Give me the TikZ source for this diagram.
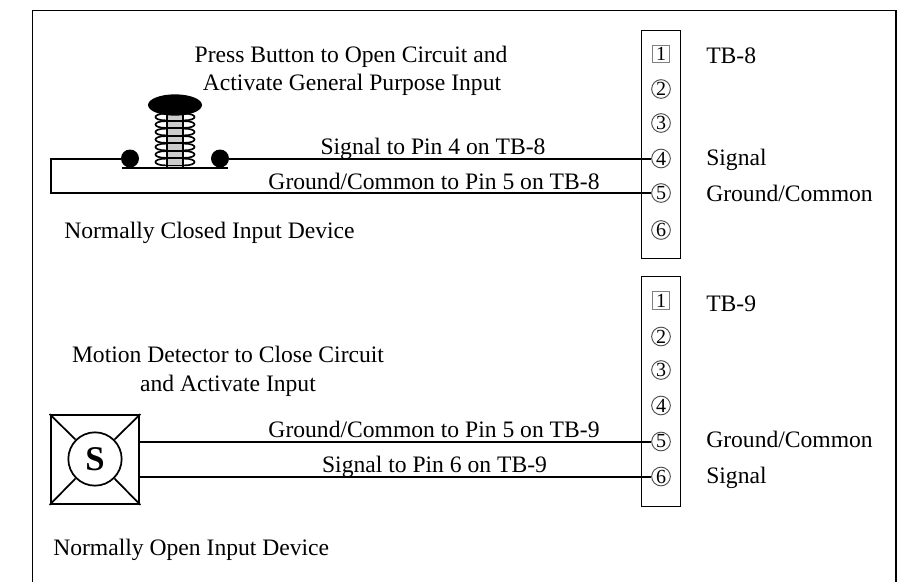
\documentclass[tikz,border=0pt]{standalone}
\usepackage{fontspec}
\usetikzlibrary{shapes.geometric}
\setmainfont{Liberation Serif}
\tikzset{
  lbl/.style={inner sep=0pt,font=\fontsize{17.7pt}{20pt}\selectfont,anchor=base west},
  wlbl/.style={inner sep=0pt,font=\fontsize{17.7pt}{20pt}\selectfont,anchor=base},
  wire/.style={line width=1.5pt},
  pin/.style={circle,draw=black!70,line width=.7pt,minimum size=14pt,inner sep=0pt,font=\fontsize{15pt}{15pt}\selectfont},
  pinsq/.style={rectangle,draw=black!50,line width=.7pt,minimum size=13pt,inner sep=0pt,font=\fontsize{15pt}{15pt}\selectfont},
  tb/.style={draw,line width=.9pt},
  coil/.style={line width=1.25pt}
}
\begin{document}
\begin{tikzpicture}[x=0.75pt,y=-0.75pt]
\useasboundingbox (0,0) rectangle (908,582);
\draw[line width=1.1pt] (32.5,582) -- (32.5,10.5) -- (896,10.5) -- (896,582);
% terminal blocks
\node[tb,minimum width=29.5pt,minimum height=171pt,inner sep=0pt,anchor=north west] (tb8) at (640.5,30) {};
\node[tb,minimum width=29.5pt,minimum height=172.5pt,inner sep=0pt,anchor=north west] (tb9) at (640.5,276) {};
\node[pinsq] (a1) at (661,54) {1};
\node[pin] (a2) at (661,89) {2};
\node[pin] (a3) at (661,123) {3};
\node[pin] (a4) at (661,158.5) {4};
\node[pin] (a5) at (661,193) {5};
\node[pin] (a6) at (661,230) {6};
\node[pinsq] (b1) at (661,300.5) {1};
\node[pin] (b2) at (661,336.5) {2};
\node[pin] (b3) at (661,370) {3};
\node[pin] (b4) at (661,405.5) {4};
\node[pin] (b5) at (661,441.5) {5};
\node[pin] (b6) at (661,476.5) {6};
% push button
\fill[black!20] (167,114) rectangle (183,168);
\foreach \yy in {117,124.5,132,139.5,147,154.5,162}{
  \draw[coil] (166,\yy-3.4) .. controls (152,\yy-3.4) and (152,\yy+3.4) .. (166,\yy+3.4);
  \draw[coil] (166,\yy+3.4) -- (184,\yy+3.4);
  \draw[coil] (166,\yy-3.4) -- (184,\yy-3.4);
  \draw[coil] (184,\yy-3.4) .. controls (198,\yy-3.4) and (198,\yy+3.4) .. (184,\yy+3.4);
}
\draw[coil] (167,112) -- (167,168) (183,112) -- (183,168);
\draw[wire] (122,168) -- (228,168);
\node[ellipse,fill=black,minimum width=40.5pt,minimum height=16pt,inner sep=0pt] (cap) at (175,105) {};
\node[circle,fill=black,minimum size=13.5pt,inner sep=0pt] (bl) at (130,158.5) {};
\node[circle,fill=black,minimum size=13.5pt,inner sep=0pt] (br) at (220,158.5) {};
\coordinate (c1) at (51,158.5);
\coordinate (c2) at (51,193);
\draw[wire] (bl) -- (c1) -- (c2) -- (a5);
\draw[wire] (br) -- (a4);
% sensor
\node[draw,line width=1.6pt,minimum size=66.5pt,inner sep=0pt] (sb) at (95,459.5) {};
\node[circle,draw,line width=1.3pt,fill=white,minimum size=40pt,inner sep=0pt,font=\fontsize{26pt}{26pt}\selectfont\bfseries] (sc) at (95,459) {S};
\draw[line width=1.3pt] (sb.north west) -- (sc.north west);
\draw[line width=1.3pt] (sb.north east) -- (sc.north east);
\draw[line width=1.3pt] (sb.south west) -- (sc.south west);
\draw[line width=1.3pt] (sb.south east) -- (sc.south east);
\draw[wire] (sb.east |- b5) -- (b5);
\draw[wire] (sb.east |- b6) -- (b6);
% labels
\node[wlbl] (t1) at (351,62) {Press Button to Open Circuit and};
\node[wlbl] (t2) at (352,90) {Activate General Purpose Input};
\node[wlbl] (t3) at (433,154) {Signal to Pin 4 on TB-8};
\node[wlbl] (t4) at (434,189) {Ground/Common to Pin 5 on TB-8};
\node[lbl] (t5) at (64,238) {Normally Closed Input Device};
\node[lbl] (t6) at (706,63) {TB-8};
\node[lbl] (t7) at (706,165) {Signal};
\node[lbl] (t8) at (706,201) {Ground/Common};
\node[wlbl] (t9) at (228,362) {Motion Detector to Close Circuit};
\node[wlbl] (t10) at (228,391) {and Activate Input};
\node[wlbl] (t11) at (434,437) {Ground/Common to Pin 5 on TB-9};
\node[wlbl] (t12) at (434.5,472) {Signal to Pin 6 on TB-9};
\node[lbl] (t13) at (53,555) {Normally Open Input Device};
\node[lbl] (t14) at (706,311) {TB-9};
\node[lbl] (t15) at (706,447) {Ground/Common};
\node[lbl] (t16) at (706,483) {Signal};
\end{tikzpicture}
\end{document}
